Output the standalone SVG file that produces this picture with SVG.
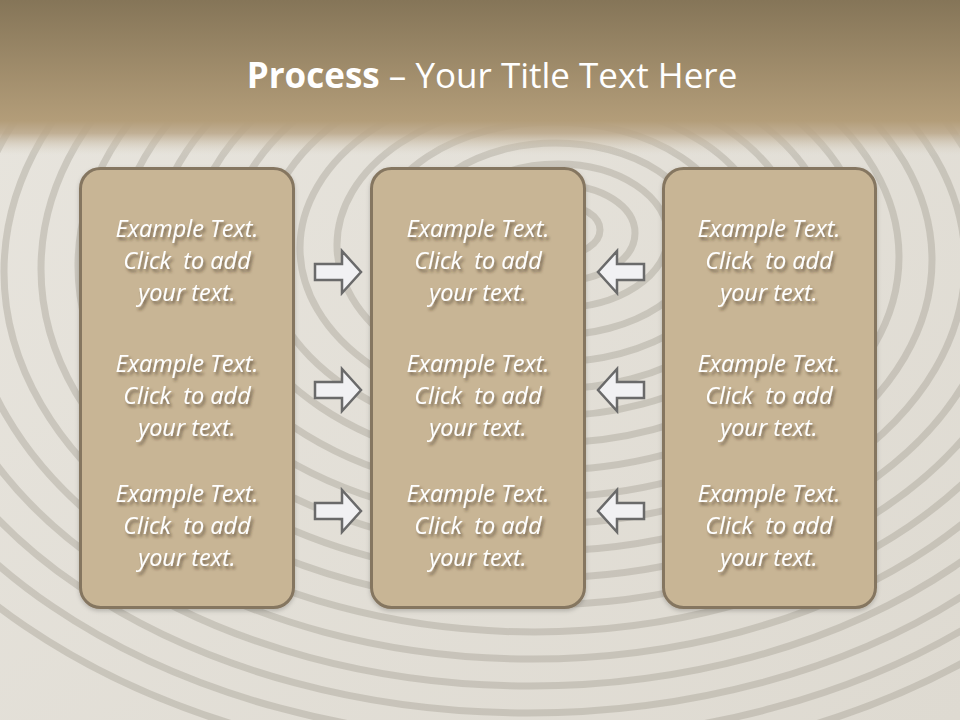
<svg xmlns="http://www.w3.org/2000/svg" width="960" height="720" viewBox="0 0 960 720">
<defs>
<linearGradient id="hdr" x1="0" y1="0" x2="0" y2="1">
<stop offset="0" stop-color="#857558"/>
<stop offset="0.78" stop-color="#b39d79"/>
<stop offset="0.86" stop-color="#baa688" stop-opacity="0.85"/>
<stop offset="1" stop-color="#d8d2c4" stop-opacity="0"/>
</linearGradient>
<linearGradient id="wood" x1="0" y1="0" x2="1" y2="1">
<stop offset="0" stop-color="#e8e5de"/>
<stop offset="1" stop-color="#dedad1"/>
</linearGradient>
<filter id="ts" x="-10%" y="-30%" width="130%" height="170%">
<feDropShadow dx="2" dy="3" stdDeviation="1.6" flood-color="#3a2e1c" flood-opacity="0.6"/>
</filter>
<filter id="bs" x="-5%" y="-5%" width="110%" height="110%">
<feDropShadow dx="0" dy="2" stdDeviation="2" flood-color="#000" flood-opacity="0.2"/>
</filter>
<style>
.box{fill:#c8b595;stroke:#857660;stroke-width:3;}
.arr{fill:#f1f1f3;stroke:#6a6a6a;stroke-width:2.5;stroke-linejoin:miter;}
.t{font-family:"Open Sans","Liberation Sans",sans-serif;font-style:italic;font-size:23.5px;fill:#ffffff;text-anchor:middle;white-space:pre;}
.ring{fill:none;stroke:#a29d92;stroke-opacity:0.4;}
</style>
</defs>
<rect x="0" y="0" width="960" height="720" fill="url(#wood)"/>
<g id="rings" stroke-width="7">
<ellipse class="ring" cx="560" cy="230" rx="40" ry="25"/>
<ellipse class="ring" cx="560" cy="233" rx="75" ry="48"/>
<ellipse class="ring" cx="558" cy="236" rx="110" ry="72"/>
<ellipse class="ring" cx="556" cy="239" rx="145" ry="96"/>
<ellipse class="ring" cx="554" cy="242" rx="180" ry="120"/>
<ellipse class="ring" cx="552" cy="245" rx="215" ry="144"/>
<ellipse class="ring" cx="550" cy="248" rx="250" ry="168"/>
<ellipse class="ring" cx="548" cy="251" rx="285" ry="192"/>
<ellipse class="ring" cx="546" cy="254" rx="320" ry="216"/>
<ellipse class="ring" cx="544" cy="257" rx="355" ry="240"/>
<ellipse class="ring" cx="542" cy="260" rx="390" ry="264"/>
<ellipse class="ring" cx="540" cy="263" rx="425" ry="288"/>
<ellipse class="ring" cx="538" cy="266" rx="460" ry="312"/>
<ellipse class="ring" cx="536" cy="269" rx="495" ry="336"/>
<ellipse class="ring" cx="534" cy="272" rx="530" ry="360"/>
<ellipse class="ring" cx="532" cy="275" rx="565" ry="384"/>
<ellipse class="ring" cx="530" cy="278" rx="600" ry="408"/>
<ellipse class="ring" cx="528" cy="281" rx="635" ry="432"/>
<ellipse class="ring" cx="526" cy="284" rx="670" ry="456"/>
<ellipse class="ring" cx="524" cy="287" rx="705" ry="480"/>
</g>
<rect x="0" y="0" width="960" height="155" fill="url(#hdr)"/>
<text x="492" y="88" font-family="'Open Sans','Liberation Sans',sans-serif" font-size="35" fill="#ffffff" text-anchor="middle"><tspan font-weight="bold">Process</tspan> – Your Title Text Here</text>

<g id="box-left" filter="url(#bs)">
<rect class="box" x="80.5" y="168.5" width="213" height="439" rx="20"/>
</g>
<g id="box-middle" filter="url(#bs)">
<rect class="box" x="371.5" y="168.5" width="213" height="439" rx="20"/>
</g>
<g id="box-right" filter="url(#bs)">
<rect class="box" x="663.5" y="168.5" width="212" height="439" rx="20"/>
</g>

<g id="texts" filter="url(#ts)">
<g id="text-left">
<text class="t" x="187" y="237">Example Text.</text><text class="t" x="187" y="269" xml:space="preserve">Click  to add</text><text class="t" x="187" y="301">your text.</text>
<text class="t" x="187" y="372">Example Text.</text><text class="t" x="187" y="404" xml:space="preserve">Click  to add</text><text class="t" x="187" y="436">your text.</text>
<text class="t" x="187" y="502">Example Text.</text><text class="t" x="187" y="534" xml:space="preserve">Click  to add</text><text class="t" x="187" y="566">your text.</text>
</g>
<g id="text-middle">
<text class="t" x="478" y="237">Example Text.</text><text class="t" x="478" y="269" xml:space="preserve">Click  to add</text><text class="t" x="478" y="301">your text.</text>
<text class="t" x="478" y="372">Example Text.</text><text class="t" x="478" y="404" xml:space="preserve">Click  to add</text><text class="t" x="478" y="436">your text.</text>
<text class="t" x="478" y="502">Example Text.</text><text class="t" x="478" y="534" xml:space="preserve">Click  to add</text><text class="t" x="478" y="566">your text.</text>
</g>
<g id="text-right">
<text class="t" x="769" y="237">Example Text.</text><text class="t" x="769" y="269" xml:space="preserve">Click  to add</text><text class="t" x="769" y="301">your text.</text>
<text class="t" x="769" y="372">Example Text.</text><text class="t" x="769" y="404" xml:space="preserve">Click  to add</text><text class="t" x="769" y="436">your text.</text>
<text class="t" x="769" y="502">Example Text.</text><text class="t" x="769" y="534" xml:space="preserve">Click  to add</text><text class="t" x="769" y="566">your text.</text>
</g>
</g>

<g id="connectors">
<polygon class="arr" points="315,264 342,264 342,251 361,272 342,293 342,280 315,280"/>
<polygon class="arr" points="315,382 342,382 342,369 361,390 342,411 342,398 315,398"/>
<polygon class="arr" points="315,503 342,503 342,490 361,511 342,532 342,519 315,519"/>
<polygon class="arr" points="644,264 617,264 617,251 598,272 617,293 617,280 644,280"/>
<polygon class="arr" points="644,382 617,382 617,369 598,390 617,411 617,398 644,398"/>
<polygon class="arr" points="644,503 617,503 617,490 598,511 617,532 617,519 644,519"/>
</g>
</svg>
